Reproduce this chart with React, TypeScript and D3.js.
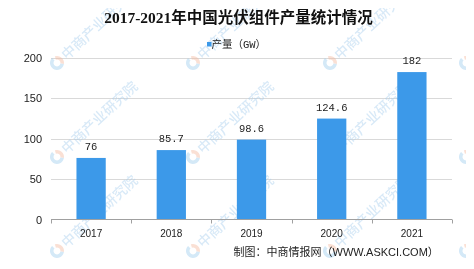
import React from "react";
import * as d3 from "d3";

const years = ["2017", "2018", "2019", "2020", "2021"];
const output = [76, 85.7, 98.6, 124.6, 182];
const yTicks = [0, 50, 100, 150, 200];
const title = "2017-2021年中国光伏组件产量统计情况";
const legendLabel = "产量（GW）";
const sourceText = "制图：中商情报网（WWW.ASKCI.COM）";
const watermarkText = "中商产业研究院";
const wmCols = [-79, 57, 193, 330, 466];
const wmRows = [63, 157, 251];

const W = 474;
const H = 269;
const BLUE = "#3C99E9";

export default function App() {
  const x = d3
    .scaleBand<string>()
    .domain(years)
    .range([51, 452])
    .paddingInner(0.635)
    .paddingOuter(0.3175);
  const y = d3.scaleLinear().domain([0, 200]).range([219.5, 57.5]);
  const x0 = 51;
  const boundaries = d3.range(years.length + 1).map((i) => x0 + i * ((452 - 51) / years.length));

  return (
    <div style={{ margin: -8, width: W, height: H }}>
      <svg width={W} height={H} style={{ display: "block", background: "#fff" }}>
        <defs>
          <clipPath id="inner">
            <rect x={1} y={1} width={471} height={266} />
          </clipPath>
        </defs>
        <rect x={0.5} y={0.5} width={472} height={267} fill="#fff" stroke="#999" strokeWidth={1} />
        {/* gridlines */}
        {yTicks.slice(1).map((t) => (
          <line key={t} x1={51} x2={452} y1={Math.round(y(t)) + 0.5} y2={Math.round(y(t)) + 0.5} stroke="#d9d9d9" strokeWidth={1} />
        ))}
        {/* watermarks */}
        <g opacity={0.45} clipPath="url(#inner)">
          {wmCols.map((cx) =>
            wmRows.map((cy) => (
              <g key={cx + "-" + cy} transform={`translate(${cx},${cy})`}>
                <path d={d3.arc()({ innerRadius: 3.5, outerRadius: 7, startAngle: -Math.PI * 0.1, endAngle: Math.PI * 0.55 }) || ""} fill="#f3b9a0" />
                <path d={d3.arc()({ innerRadius: 3.5, outerRadius: 7, startAngle: Math.PI * 0.55, endAngle: Math.PI * 1.75 }) || ""} fill="#9fcdee" />
                <text
                  transform="rotate(-43) translate(9,5)"
                  fontFamily="'Noto Sans CJK SC', sans-serif"
                  fontSize={14}
                  fontWeight={500}
                  fill="#a9cfee"
                >
                  {watermarkText}
                </text>
              </g>
            ))
          )}
        </g>
        {/* bars */}
        {output.map((v, i) => (
          <rect key={years[i]} x={x(years[i])!} y={y(v)} width={x.bandwidth()} height={y(0) - y(v)} fill={BLUE} />
        ))}
        {/* value labels */}
        {output.map((v, i) => (
          <text
            key={"l" + years[i]}
            x={x(years[i])! + x.bandwidth() / 2}
            y={y(v) - 8}
            textAnchor="middle"
            fontFamily="'Liberation Mono', monospace"
            fontSize={10.5}
            fill="#222"
          >
            {String(v)}
          </text>
        ))}
        {/* x axis */}
        <line x1={51} x2={452} y1={219.5} y2={219.5} stroke="#a0a0a0" strokeWidth={1} />
        {boundaries.map((bx, i) => (
          <line key={"t" + i} x1={Math.round(bx) + 0.5} x2={Math.round(bx) + 0.5} y1={219.5} y2={223.5} stroke="#a0a0a0" strokeWidth={1} />
        ))}
        {years.map((yr) => (
          <text
            key={"x" + yr}
            x={x(yr)! + x.bandwidth() / 2}
            y={236.5}
            textAnchor="middle"
            fontFamily="'Liberation Sans', Arial, sans-serif"
            fontSize={10}
            fill="#222"
          >
            {yr}
          </text>
        ))}
        {/* y axis labels */}
        {yTicks.map((t) => (
          <text
            key={"y" + t}
            x={42}
            y={y(t) + 4}
            textAnchor="end"
            fontFamily="'Liberation Sans', Arial, sans-serif"
            fontSize={11}
            fill="#222"
          >
            {t}
          </text>
        ))}
        {/* title */}
        <text
          x={238.5}
          y={22.5}
          textAnchor="middle"
          fontFamily="'Liberation Serif', 'Noto Sans CJK SC', serif"
          fontWeight={700}
          fontSize={15.5}
          fill="#111"
        >
          {title}
        </text>
        {/* legend */}
        <rect x={207} y={42} width={4.5} height={4.5} fill={BLUE} />
        <text
          x={211.5}
          y={48}
          fontFamily="'Liberation Mono', 'Noto Sans CJK SC', monospace"
          fontSize={10.5}
          fill="#222"
        >
          {legendLabel}
        </text>
        {/* source */}
        <text
          x={233.5}
          y={255.5}
          fontFamily="'Liberation Sans', 'Noto Sans CJK SC', sans-serif"
          fontSize={11}
          fill="#222"
        >
          {sourceText}
        </text>
      </svg>
    </div>
  );
}
